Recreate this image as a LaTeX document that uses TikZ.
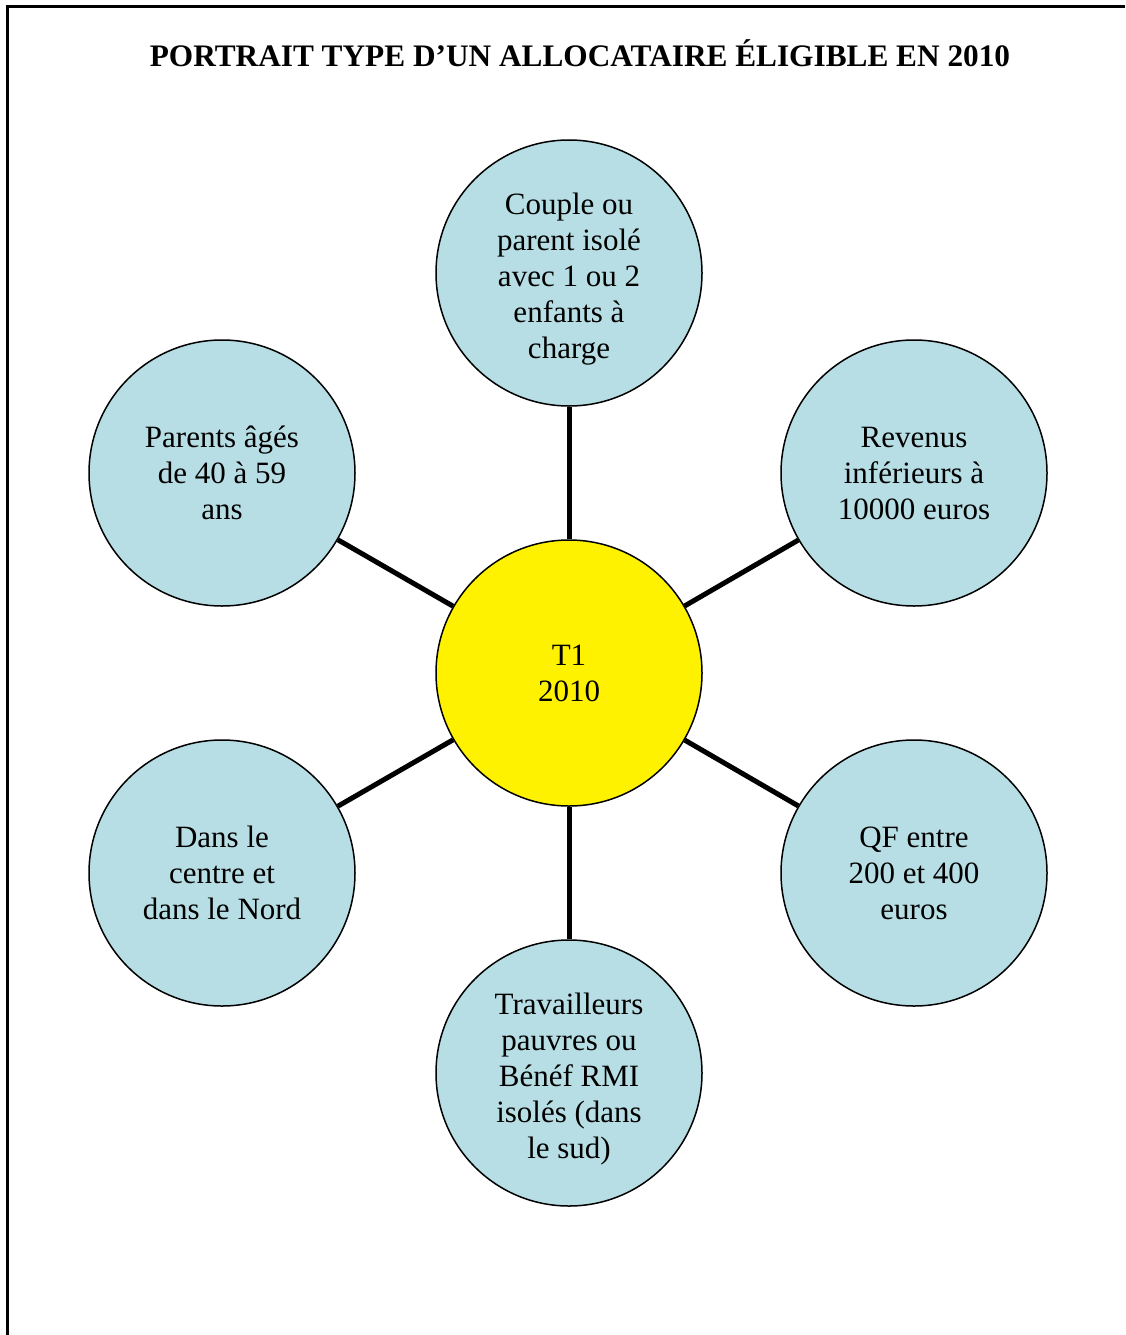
\documentclass[tikz,border=0pt]{standalone}
\usepackage{fontspec}
\setmainfont{Liberation Serif}
\usetikzlibrary{positioning}
\definecolor{ballblue}{RGB}{183,222,228}
\newcommand{\topgap}{\rule{0pt}{33pt}}

\begin{document}
\begin{tikzpicture}[x=1pt, y=1pt,
    ball/.style={circle, draw, line width=1.5pt, fill=ballblue,
        minimum size=266pt, inner sep=0pt, align=center,
        font=\fontsize{31}{36}\selectfont},
    hub/.style={ball, fill=yellow},
    spoke/.style={line width=5pt},
    node distance=400pt, on grid]
\useasboundingbox (0,0) rectangle (1125,-1335);
\draw[line width=3pt] (1125,-7) -- (7,-7) -- (7,-1335);
\node[font=\bfseries\fontsize{31.3}{36}\selectfont, anchor=base] (titre) at (580,-67)
    {PORTRAIT TYPE D’UN ALLOCATAIRE ÉLIGIBLE EN 2010};
\node[hub] (T1) at (569,-673) {T1\\2010};
\node[ball, above=of T1] (couple) {\topgap Couple ou\\parent isolé\\avec 1 ou 2\\enfants à\\charge};
\node[ball, above left=200pt and 347pt of T1] (parents) {Parents âgés\\de 40 à 59\\ans};
\node[ball, above right=200pt and 345pt of T1] (revenus) {Revenus\\inférieurs à\\10000 euros};
\node[ball, below left=200pt and 347pt of T1] (centre) {Dans le\\centre et\\dans le Nord};
\node[ball, below right=200pt and 345pt of T1] (qf) {QF entre\\200 et 400\\euros};
\node[ball, below=of T1] (travail) {\topgap Travailleurs\\pauvres ou\\Bénéf RMI\\isolés (dans\\le sud)};
\foreach \n in {couple, parents, revenus, centre, qf, travail}
    \draw[spoke] (T1) -- (\n);
\end{tikzpicture}
\end{document}
